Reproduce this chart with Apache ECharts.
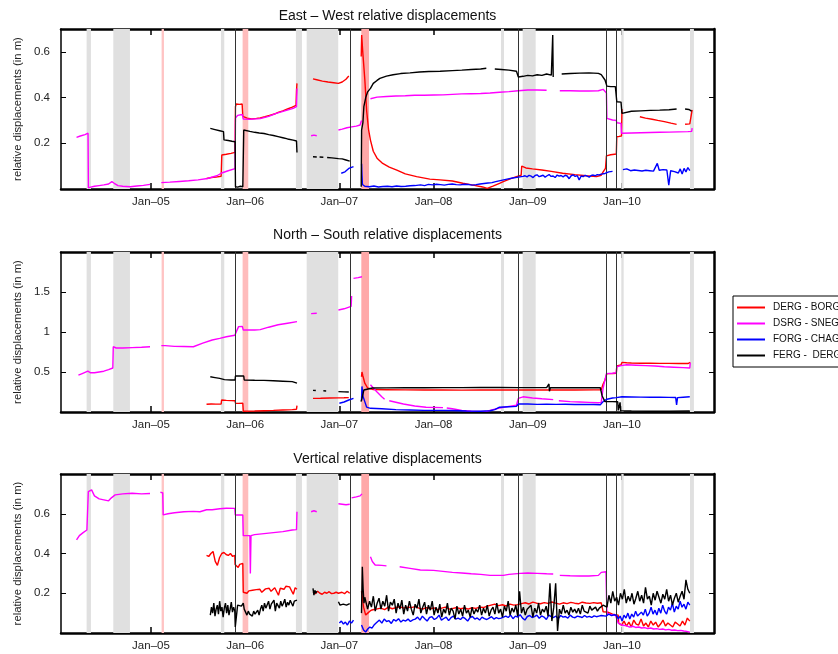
<!DOCTYPE html>
<html><head><meta charset="utf-8">
<script src="https://cdn.jsdelivr.net/npm/echarts@6/dist/echarts.min.js"></script>
<style>html,body{margin:0;padding:0;background:#fff}#c{width:838px;height:654px}</style>
</head><body><div id="c"></div>
<script>
// ---- axis / annotation data (decimal years) ----
const X_MIN = 2004.045, X_MAX = 2010.977;
const YEAR_TICKS = [2005, 2006, 2007, 2008, 2009, 2010];
const PANEL_TITLES = ['East \u2013 West relative displacements', 'North \u2013 South relative displacements', 'Vertical relative displacements'];
const Y_NAME = 'relative displacements (in m)';
const Y_MAX = [0.7, 2, 0.8];
const Y_TICKS = [[0.2, 0.4, 0.6], [0.5, 1, 1.5], [0.2, 0.4, 0.6]];
const NAMES = ['DERG - BORG', 'DSRG - SNEG', 'FORG - CHAG', 'FERG -  DERG'];
const GRAY_BANDS = [[2004.317,2004.363],[2004.600,2004.777],[2005.743,2005.778],[2006.539,2006.603],[2006.653,2006.988],[2008.716,2008.748],[2008.946,2009.084],[2009.993,2010.018],[2010.722,2010.764]];
const GRAY_BANDS_NS = [[2004.317,2004.363],[2004.600,2004.777],[2005.743,2005.778],[2006.653,2006.988],[2008.716,2008.748],[2008.946,2009.084],[2009.993,2010.018],[2010.722,2010.764]];
const RED_BANDS = [[2005.113,2005.138],[2005.973,2006.033],[2007.233,2007.315]];
const EVENT_LINES = [2005.895, 2007.120, 2008.899, 2009.834, 2009.940];

// ---- East-West ----
const EW_DERG = [
[2005.59,0.046],[2005.64,0.05],[2005.69,0.052],[2005.745,0.056],[2005.752,0.149],[2005.80,0.152],[2005.85,0.156],[2005.893,0.16],
[2005.897,0.36],[2005.905,0.372],[2005.94,0.37],[2005.968,0.372],
[2005.975,0.318],[2006.02,0.31],[2006.07,0.307],[2006.12,0.309],[2006.16,0.311],[2006.21,0.316],[2006.26,0.322],[2006.31,0.328],[2006.35,0.335],[2006.40,0.342],[2006.45,0.35],[2006.50,0.358],[2006.54,0.366],[2006.545,0.43],[2006.55,0.462],
null,
[2006.72,0.482],[2006.76,0.478],[2006.82,0.472],[2006.88,0.468],[2006.94,0.465],[2006.99,0.462],[2007.03,0.468],[2007.07,0.48],[2007.10,0.494],
null,
[2007.232,0.58],[2007.237,0.674],[2007.245,0.62],[2007.25,0.59],[2007.27,0.48],[2007.29,0.34],[2007.31,0.26],[2007.33,0.214],[2007.36,0.165],[2007.40,0.135],[2007.46,0.112],[2007.53,0.096],[2007.61,0.083],[2007.70,0.066],[2007.82,0.054],[2007.96,0.043],[2008.07,0.04],[2008.20,0.035],[2008.31,0.025],[2008.42,0.017],[2008.52,0.009],[2008.57,0.003],[2008.63,0.013],[2008.70,0.025],[2008.74,0.032],[2008.82,0.045],[2008.88,0.054],[2008.93,0.06],[2008.936,0.1],[2008.98,0.092],[2009.05,0.088],[2009.15,0.083],[2009.25,0.077],[2009.37,0.069],[2009.50,0.063],[2009.62,0.058],[2009.73,0.054],[2009.78,0.06],[2009.80,0.075],[2009.825,0.09],[2009.835,0.145],[2009.88,0.15],[2009.94,0.153],[2009.945,0.229],[2009.97,0.23],[2009.995,0.232],[2010.0,0.35],
null,
[2010.19,0.316],[2010.25,0.31],[2010.32,0.305],[2010.38,0.3],[2010.45,0.295],[2010.52,0.288],[2010.58,0.283],
null,
[2010.67,0.283],[2010.72,0.285],[2010.74,0.29],[2010.745,0.346]
];
const EW_DSRG = [
[2004.21,0.226],[2004.25,0.232],[2004.30,0.238],[2004.332,0.244],[2004.336,0.005],[2004.36,0.008],[2004.40,0.012],[2004.45,0.015],[2004.50,0.018],[2004.55,0.022],[2004.585,0.032],[2004.61,0.025],[2004.65,0.015],[2004.70,0.012],[2004.78,0.01],[2004.85,0.013],[2004.92,0.016],[2004.99,0.02],
null,
[2005.11,0.028],[2005.2,0.03],[2005.3,0.033],[2005.4,0.036],[2005.5,0.04],[2005.6,0.046],[2005.7,0.058],[2005.75,0.07],[2005.82,0.08],[2005.893,0.089],[2005.897,0.31],[2005.92,0.322],[2005.97,0.326],[2005.98,0.306],[2006.05,0.305],[2006.16,0.308],[2006.25,0.318],[2006.33,0.331],[2006.42,0.342],[2006.51,0.353],[2006.545,0.36],[2006.55,0.44],
null,
[2006.70,0.233],[2006.73,0.236],[2006.76,0.233],
null,
[2006.99,0.258],[2007.03,0.262],[2007.08,0.268],[2007.13,0.272],[2007.18,0.275],[2007.22,0.28],[2007.235,0.30],
null,
[2007.33,0.395],[2007.40,0.402],[2007.5,0.405],[2007.6,0.407],[2007.7,0.408],[2007.8,0.41],[2007.9,0.41],[2008.0,0.411],[2008.1,0.412],[2008.2,0.414],[2008.3,0.416],[2008.4,0.417],[2008.5,0.418],[2008.6,0.42],[2008.7,0.423],[2008.8,0.426],[2008.9,0.43],[2009.0,0.433],[2009.1,0.433],[2009.2,0.432],
null,
[2009.34,0.43],[2009.45,0.43],[2009.55,0.429],[2009.65,0.429],[2009.75,0.43],[2009.80,0.436],[2009.82,0.44],[2009.835,0.42],[2009.84,0.309],[2009.90,0.302],[2009.94,0.30],[2009.945,0.29],[2009.99,0.287],[2009.995,0.244],[2010.1,0.245],[2010.2,0.246],[2010.3,0.247],[2010.4,0.248],[2010.5,0.249],[2010.6,0.25],[2010.7,0.251],[2010.74,0.252],[2010.745,0.266]
];
const EW_FORG = [
[2007.02,0.069],[2007.06,0.075],[2007.10,0.09],[2007.15,0.098],
null,
[2007.236,0.11],[2007.24,0.06],[2007.245,0.02],[2007.26,0.012],
[2007.27,2007.80,[0.012,0.01,0.013,0.009,0.011,0.012,0.01,0.013,0.011,0.012,0.014,0.015]],
[2007.82,2008.62,[0.016,0.018,0.015,0.02,0.018,0.021,0.019,0.017,0.02,0.022,0.019,0.018,0.021,0.02,0.017,0.019,0.022,0.024,0.026,0.028]],
[2008.66,0.032],[2008.72,0.038],[2008.78,0.043],[2008.84,0.048],[2008.9,0.052],
[2008.95,2009.78,[0.055,0.058,0.053,0.06,0.056,0.05,0.059,0.062,0.054,0.057,0.06,0.052,0.058,0.063,0.055,0.057,0.05,0.061,0.056,0.059,0.053,0.06,0.057,0.045,0.058,0.062,0.055,0.059,0.04,0.057,0.054,0.06,0.056,0.052,0.059,0.061,0.058,0.063,0.062,0.065]],
[2009.82,0.068],[2009.86,0.075],[2009.90,0.077],
null,
[2010.01,2010.72,[0.085,0.082,0.088,0.084,0.08,0.086,0.083,0.087,0.081,0.084,0.079,0.085,0.082,0.086,0.08,0.083,0.078,0.084,0.112,0.082,0.08,0.085,0.078,0.083,0.017,0.08,0.084,0.076,0.082,0.07,0.088,0.066,0.09,0.075,0.094,0.08]]
];
const EW_FERG = [
[2005.63,0.265],[2005.68,0.26],[2005.73,0.255],[2005.77,0.251],[2005.775,0.215],[2005.82,0.212],[2005.86,0.209],[2005.893,0.207],[2005.897,0.01],[2005.92,0.008],[2005.95,0.012],[2005.975,0.01],[2005.985,0.258],[2006.0,0.255],[2006.05,0.252],[2006.1,0.248],[2006.15,0.245],[2006.2,0.243],[2006.25,0.238],[2006.3,0.234],[2006.35,0.229],[2006.4,0.224],[2006.45,0.219],[2006.51,0.214],[2006.545,0.21],[2006.55,0.16],
null,
[2006.72,0.141],[2006.76,0.14],
null,
[2006.79,0.14],[2006.83,0.139],
null,
[2006.87,0.138],[2006.92,0.136],[2006.99,0.133],[2007.03,0.132],[2007.07,0.127],[2007.11,0.122],
null,
[2007.232,0.01],[2007.236,0.258],[2007.25,0.29],[2007.26,0.36],[2007.28,0.40],[2007.30,0.425],[2007.33,0.44],[2007.36,0.462],[2007.40,0.475],[2007.43,0.484],[2007.50,0.494],[2007.57,0.50],[2007.65,0.505],[2007.75,0.508],[2007.85,0.512],[2007.95,0.514],[2008.07,0.515],[2008.2,0.518],[2008.3,0.52],[2008.4,0.523],[2008.5,0.525],[2008.56,0.528],
null,
[2008.65,0.525],[2008.72,0.523],[2008.8,0.52],[2008.88,0.515],[2008.90,0.49],[2008.95,0.493],[2009.0,0.497],[2009.05,0.495],[2009.1,0.5],[2009.15,0.497],[2009.2,0.503],[2009.25,0.498],[2009.265,0.674],[2009.27,0.49],
null,
[2009.36,0.503],[2009.45,0.505],[2009.55,0.507],[2009.65,0.508],[2009.75,0.506],[2009.78,0.5],[2009.82,0.477],[2009.84,0.45],[2009.88,0.448],[2009.93,0.448],[2009.945,0.382],[2009.99,0.38],[2010.0,0.331],[2010.02,0.338],[2010.1,0.34],[2010.2,0.342],[2010.3,0.344],[2010.4,0.345],[2010.5,0.347],[2010.58,0.35],
null,
[2010.67,0.35],[2010.71,0.348],[2010.74,0.34]
];

// ---- North-South ----
const NS_DERG = [
[2005.59,0.096],[2005.64,0.1],[2005.69,0.098],[2005.745,0.1],[2005.75,0.15],[2005.8,0.145],[2005.85,0.142],[2005.893,0.14],[2005.897,0.11],[2005.93,0.108],[2005.975,0.11],[2005.98,0.01],[2006.1,0.012],[2006.2,0.016],[2006.3,0.02],[2006.4,0.025],[2006.5,0.03],[2006.545,0.035],[2006.55,0.08],
null,
[2006.72,0.17],[2006.8,0.172],[2006.9,0.175],[2006.99,0.177],[2007.05,0.178],[2007.10,0.18],
null,
[2007.235,0.44],[2007.24,0.5],[2007.25,0.45],[2007.27,0.36],[2007.30,0.3],[2007.33,0.29],[2007.36,0.28],[2007.5,0.278],[2007.7,0.276],[2007.9,0.275],[2008.1,0.275],[2008.3,0.274],[2008.5,0.275],[2008.7,0.275],[2008.9,0.276],[2009.1,0.275],[2009.3,0.275],[2009.5,0.275],[2009.7,0.276],[2009.78,0.278],[2009.80,0.35],[2009.82,0.4],[2009.84,0.48],[2009.9,0.482],[2009.94,0.485],[2009.945,0.575],[2009.99,0.59],[2010.0,0.62],[2010.05,0.615],[2010.1,0.612],[2010.2,0.61],[2010.3,0.61],[2010.4,0.608],[2010.5,0.608],[2010.6,0.607],[2010.7,0.606],[2010.72,0.608],[2010.725,0.62]
];
const NS_DSRG = [
[2004.23,0.46],[2004.27,0.48],[2004.33,0.51],[2004.36,0.49],[2004.40,0.49],[2004.45,0.5],[2004.5,0.51],[2004.55,0.53],[2004.595,0.55],[2004.60,0.816],[2004.63,0.80],[2004.7,0.80],[2004.8,0.805],[2004.9,0.81],[2004.99,0.816],
null,
[2005.11,0.83],[2005.13,0.845],[2005.15,0.83],[2005.25,0.82],[2005.35,0.818],[2005.45,0.816],[2005.55,0.86],[2005.65,0.9],[2005.73,0.92],[2005.8,0.94],[2005.89,0.96],[2005.93,1.067],[2005.97,1.07],[2005.98,1.025],[2006.1,1.025],[2006.16,1.03],[2006.25,1.06],[2006.35,1.09],[2006.45,1.11],[2006.55,1.13],
null,
[2006.70,1.23],[2006.76,1.235],
null,
[2006.99,1.275],[2007.05,1.29],[2007.125,1.32],[2007.13,1.45],
null,
[2007.15,1.67],[2007.2,1.68],[2007.24,1.69],
null,
[2007.33,0.34],[2007.36,0.3],[2007.40,0.25],[2007.45,0.19],[2007.48,0.16],
null,
[2007.53,0.14],[2007.68,0.1],[2007.8,0.075],[2007.92,0.06],[2008.1,0.055],
null,
[2008.14,0.05],[2008.2,0.04],[2008.3,0.02],[2008.4,0.01],[2008.5,0.008],[2008.57,0.01],[2008.63,0.03],[2008.7,0.05],[2008.8,0.07],[2008.88,0.085],[2008.9,0.17],[2008.95,0.19],[2009.05,0.175],[2009.15,0.165],[2009.27,0.155],
null,
[2009.33,0.14],[2009.45,0.13],[2009.55,0.125],[2009.65,0.12],[2009.75,0.115],[2009.78,0.12],[2009.80,0.3],[2009.835,0.48],[2009.9,0.485],[2009.94,0.49],[2009.945,0.566],[2009.99,0.58],[2010.0,0.6],[2010.05,0.59],[2010.15,0.585],[2010.25,0.58],[2010.35,0.575],[2010.45,0.565],[2010.55,0.56],[2010.65,0.555],[2010.72,0.55],[2010.725,0.615]
];
const NS_FORG = [
[2007.0,0.11],[2007.05,0.125],[2007.1,0.15],[2007.15,0.17],
null,
[2007.235,0.14],[2007.24,0.32],[2007.25,0.2],[2007.27,0.13],[2007.29,0.06],[2007.33,0.046],[2007.45,0.04],[2007.6,0.03],[2007.75,0.025],[2007.9,0.02],[2008.05,0.02],[2008.2,0.018],[2008.35,0.012],[2008.5,0.01],[2008.6,0.015],[2008.65,0.03],[2008.7,0.06],[2008.8,0.066],[2008.88,0.07],[2008.9,0.1],[2009.0,0.1],[2009.1,0.095],[2009.2,0.098],[2009.3,0.095],[2009.4,0.097],[2009.5,0.094],[2009.6,0.095],[2009.7,0.093],[2009.77,0.09],[2009.8,0.13],[2009.84,0.16],[2009.9,0.175],[2009.94,0.18],[2010.0,0.19],[2010.1,0.188],[2010.2,0.186],[2010.3,0.185],[2010.4,0.186],[2010.5,0.183],[2010.57,0.182],[2010.58,0.09],[2010.59,0.18],[2010.65,0.185],[2010.72,0.19]
];
const NS_FERG = [
[2005.63,0.44],[2005.68,0.43],[2005.73,0.42],[2005.78,0.405],[2005.85,0.4],[2005.893,0.4],[2005.897,0.45],[2005.94,0.452],[2005.985,0.45],[2005.99,0.4],[2006.1,0.397],[2006.2,0.395],[2006.3,0.39],[2006.4,0.385],[2006.5,0.38],[2006.55,0.36],
null,
[2006.72,0.27],[2006.75,0.268],
null,
[2006.83,0.265],[2006.86,0.263],
null,
[2006.99,0.255],[2007.05,0.252],[2007.1,0.25],
null,
[2007.23,0.13],[2007.24,0.17],[2007.26,0.275],[2007.28,0.3],[2007.35,0.3],[2007.5,0.302],[2007.7,0.303],[2007.9,0.304],[2008.1,0.305],[2008.3,0.305],[2008.5,0.306],[2008.7,0.306],[2008.9,0.305],[2009.1,0.305],[2009.2,0.305],[2009.225,0.35],[2009.23,0.26],[2009.24,0.305],[2009.4,0.304],[2009.6,0.304],[2009.77,0.303],[2009.79,0.2],[2009.82,0.13],[2009.9,0.13],[2009.955,0.128],[2009.96,0.02],[2009.975,0.02],[2009.98,0.12],[2009.985,0.015],[2010.1,0.012],[2010.3,0.01],[2010.5,0.01],[2010.72,0.012]
];

// ---- Vertical ----
const V_DERG = [
[2005.59,2005.89,[0.39,0.385,0.40,0.41,0.36,0.34,0.38,0.40,0.405,0.395,0.39,0.40,0.385,0.39]],
[2005.893,2005.975,[0.345,0.35,0.33,0.345,0.34,0.35]],
[2005.98,2006.55,[0.205,0.21,0.2,0.212,0.208,0.215,0.21,0.218,0.212,0.22,0.205,0.215,0.222,0.218,0.225,0.21,0.22,0.228,0.222,0.19,0.225,0.23,0.22,0.235,0.228,0.232,0.225,0.195,0.228,0.22]],
null,
[2006.72,2006.99,[0.205,0.198,0.21,0.2,0.195,0.205,0.2,0.208,0.198,0.2,0.205,0.2]],
[2007.0,2007.11,[0.2,0.205,0.198,0.21,0.2]],
null,
[2007.235,2007.39,[0.21,0.13,0.09,0.1,0.11,0.116,0.118,0.12]],
[2007.40,2009.78,[0.12,0.125,0.118,0.13,0.122,0.128,0.132,0.125,0.13,0.128,0.133,
 0.125,0.12,0.128,0.122,0.126,0.118,0.125,0.13,0.12,0.124,0.128,0.122,0.126,0.12,0.127,0.124,0.13,0.128,
 0.135,0.14,0.145,0.138,0.142,0.136,0.145,0.14,0.143,
 0.148,0.152,0.146,0.155,0.15,0.147,0.153,0.149,0.156,0.15,0.145,0.152,0.148,0.154,0.15,0.147,0.155,0.151,0.149,0.153,0.15,0.152]],
[2009.8,0.107],[2009.85,0.105],[2009.9,0.095],[2009.96,0.09],[2009.965,0.05],
[2009.97,2010.72,[0.05,0.04,0.06,0.035,0.055,0.03,0.065,0.045,0.04,0.07,0.035,0.05,0.03,0.06,0.04,0.055,0.03,0.045,0.065,0.035,0.05,0.04,0.03,0.055,0.045,0.035,0.06,0.04,0.075,0.06]]
];
const V_DSRG = [
[2004.21,0.468],[2004.24,0.49],[2004.28,0.505],[2004.32,0.518],[2004.335,0.711],[2004.37,0.72],[2004.40,0.69],[2004.45,0.675],[2004.50,0.67],[2004.55,0.665],[2004.58,0.68],[2004.62,0.695],[2004.7,0.70],[2004.8,0.703],[2004.9,0.70],[2004.99,0.702],
null,
[2005.10,0.708],[2005.125,0.705],[2005.13,0.594],[2005.18,0.60],[2005.25,0.605],[2005.35,0.61],[2005.45,0.612],[2005.52,0.61],[2005.59,0.62],[2005.65,0.62],[2005.73,0.625],[2005.80,0.628],[2005.89,0.627],[2005.895,0.594],[2005.94,0.594],[2005.975,0.594],[2005.98,0.49],[2006.0,0.488],[2006.05,0.49],[2006.055,0.30],[2006.062,0.49],[2006.1,0.495],[2006.2,0.50],[2006.3,0.505],[2006.4,0.51],[2006.5,0.518],[2006.545,0.52],[2006.55,0.61],
null,
[2006.70,0.61],[2006.73,0.615],[2006.76,0.61],
null,
[2006.99,0.65],[2007.03,0.648],[2007.07,0.645],[2007.11,0.648],
null,
[2007.13,0.68],[2007.18,0.685],[2007.22,0.69],[2007.24,0.70],
null,
[2007.33,0.384],[2007.35,0.36],[2007.38,0.342],[2007.45,0.34],[2007.5,0.338],
null,
[2007.64,0.333],[2007.75,0.325],[2007.86,0.317],[2008.0,0.315],[2008.1,0.31],[2008.2,0.305],[2008.3,0.302],[2008.4,0.298],[2008.5,0.295],[2008.6,0.29],[2008.74,0.29],[2008.8,0.295],[2008.92,0.30],[2009.0,0.302],[2009.1,0.30],[2009.2,0.298],[2009.27,0.297],
null,
[2009.34,0.29],[2009.45,0.288],[2009.55,0.287],[2009.65,0.287],[2009.75,0.29],[2009.78,0.305],[2009.83,0.308],[2009.84,0.099],[2009.88,0.092],[2009.93,0.09],[2009.96,0.05],[2010.0,0.04],
[2010.05,2010.72,[0.036,0.03,0.034,0.028,0.03,0.025,0.027,0.022,0.025,0.02,0.022,0.018,0.02,0.016,0.018,0.014,0.015,0.012,0.013,0.01,0.008,0.004]]
];
const V_FORG = [
[2007.0,2007.15,[0.05,0.06,0.045,0.055,0.04,0.06,0.05,0.065]],
null,
[2007.235,2007.39,[0.04,0.015,0.005,0.02,0.03,0.025,0.04,0.05]],
[2007.40,2009.78,[0.055,0.065,0.05,0.07,0.058,0.062,0.048,0.068,0.06,0.072,0.055,0.065,0.06,0.07,0.058,0.066,
 0.07,0.08,0.065,0.085,0.072,0.06,0.078,0.082,0.068,0.075,0.09,0.065,0.073,0.08,0.062,0.077,0.085,0.07,0.075,0.068,0.08,0.072,0.06,0.078,0.083,0.07,0.076,0.065,0.08,0.072,0.068,0.075,0.082,0.07,0.077,0.072,
 0.075,0.08,0.085,0.078,0.09,0.072,0.085,0.08,0.092,0.075,0.065,0.083,0.088,0.078,0.082,0.09,0.074,0.086,0.08,0.068,0.09,0.082,0.078,0.085,0.072,0.088,0.08,0.083,0.075,0.09,0.08,0.077,0.085,0.082,0.078,0.088,0.08,0.084,0.078,0.086,0.082,0.085,0.088]],
[2009.8,2009.95,[0.09,0.085,0.095,0.088,0.092,0.085]],
[2009.96,2010.72,[0.07,0.085,0.06,0.09,0.075,0.1,0.07,0.095,0.08,0.11,0.085,0.075,0.105,0.09,0.12,0.085,0.1,0.13,0.095,0.115,0.09,0.125,0.1,0.14,0.11,0.095,0.13,0.115,0.15,0.105,0.135,0.12,0.16,0.13,0.145,0.12,0.155,0.14]]
];
const V_FERG = [
[2005.63,2005.89,[0.09,0.13,0.10,0.15,0.085,0.12,0.14,0.095,0.16,0.11,0.13,0.08,0.125,0.15,0.10,0.14,0.09,0.12,0.155,0.105,0.13,0.11]],
[2005.895,0.03],
[2005.92,2005.98,[0.14,0.15,0.135,0.15]],
[2005.99,2006.55,[0.12,0.105,0.09,0.11,0.095,0.1,0.085,0.11,0.095,0.1,0.115,0.09,0.12,0.14,0.11,0.15,0.125,0.13,0.16,0.12,0.145,0.135,0.165,0.11,0.15,0.14,0.125,0.16,0.135,0.15,0.17,0.13,0.155,0.14,0.165,0.15,0.135,0.16,0.155,0.165]],
null,
[2006.72,2006.76,[0.225,0.19,0.215,0.2,0.21]],
null,
[2006.99,2007.11,[0.157,0.14,0.15,0.145,0.155,0.14,0.15,0.148]],
null,
[2007.235,2007.27,[0.1,0.333,0.22,0.15,0.18]],
[2007.28,2009.78,[0.17,0.12,0.16,0.13,0.185,0.11,0.15,0.175,0.12,0.16,0.135,0.19,0.11,0.155,0.14,0.17,
 0.1,0.15,0.12,0.165,0.095,0.14,0.11,0.16,0.12,0.09,0.145,0.125,0.17,0.1,0.13,0.155,0.095,0.14,0.115,0.16,
 0.09,0.13,0.1,0.145,0.08,0.12,0.1,0.15,0.09,0.125,0.11,0.07,0.135,0.095,0.12,0.085,0.14,0.1,0.115,0.08,0.13,0.095,0.12,0.105,0.14,
 0.09,0.125,0.1,0.14,0.085,0.115,0.13,0.095,0.15,0.1,0.12,0.08,0.135,0.11,0.16,0.09,0.125,0.105,0.14,0.085,0.21,0.1,0.13,0.09,0.12,
 0.11,0.14,0.08,0.125,0.1,0.15,0.09,0.12,0.105,0.135,0.085,0.25,0.06,0.13,0.25,0.01,0.12,0.095,0.14,0.1,0.115,0.09,0.13,0.105,0.12,
 0.1,0.125,0.095,0.14,0.11,0.12,0.1,0.135,0.115,0.105,0.13,0.11,0.125,0.12]],
[2009.8,2010.72,[0.14,0.15,0.13,0.19,0.15,0.21,0.16,0.18,0.14,0.2,0.17,0.22,0.15,0.185,0.16,0.2,0.145,0.175,0.21,0.16,0.19,0.15,0.23,0.17,0.185,0.14,0.2,0.165,0.21,0.18,0.15,0.195,0.17,0.22,0.16,0.19,0.14,0.175,0.2,0.155,0.185,0.21,0.17,0.267,0.22,0.2]]
];

const PANELS = [
  [EW_DERG, EW_DSRG, EW_FORG, EW_FERG],
  [NS_DERG, NS_DSRG, NS_FORG, NS_FERG],
  [V_DERG, V_DSRG, V_FORG, V_FERG]
];
const PANEL_GRAY = [GRAY_BANDS, GRAY_BANDS_NS, GRAY_BANDS];

// ---- build ----
function build(list) {
  const out = [];
  for (const e of list) {
    if (e === null) { out.push([out.length ? out[out.length - 1][0] : X_MIN, '-']); continue; }
    if (Array.isArray(e[2])) {
      const t0 = e[0], t1 = e[1], vals = e[2], n = vals.length;
      vals.forEach((v, i) => out.push([n > 1 ? t0 + (t1 - t0) * i / (n - 1) : t0, v]));
    } else out.push([e[0], e[1]]);
  }
  return out;
}

const COLORS = ['#ff0000', '#ff00ff', '#0000ff', '#000000'];
const FONT = 'Liberation Sans, Arial, Helvetica, sans-serif';
const GRID_BOX = [{ top: 29, height: 160 }, { top: 252, height: 160 }, { top: 474, height: 159 }];
const TITLE_Y = [16, 235, 459];
const RED_COLORS = ['#ffc4c4', '#ffbcbc', '#ffa8a8'];

const grid = [], xAxis = [], yAxis = [], series = [], graphic = [];
const AX = { onZero: false, lineStyle: { color: '#000', width: 2.5 } };
PANELS.forEach((panel, p) => {
  grid.push({ left: 61, width: 653, top: GRID_BOX[p].top, height: GRID_BOX[p].height });
  const xBase = { type: 'value', gridIndex: p, min: X_MIN, max: X_MAX, splitLine: { show: false },
    axisLine: AX, axisTick: { inside: true, length: 6, customValues: YEAR_TICKS, lineStyle: { color: '#000', width: 1.5 } } };
  xAxis.push(Object.assign({}, xBase, { position: 'bottom',
    axisLabel: { customValues: YEAR_TICKS, formatter: v => 'Jan\u2013' + String(Math.round(v)).slice(2), fontFamily: FONT, fontSize: 11.5, color: '#222', margin: 7 } }));
  xAxis.push(Object.assign({}, xBase, { position: 'top', axisLabel: { show: false } }));
  const yBase = { type: 'value', gridIndex: p, min: 0, max: Y_MAX[p], splitLine: { show: false },
    axisTick: { inside: true, length: 5, customValues: Y_TICKS[p], lineStyle: { color: '#000', width: 1 } } };
  yAxis.push(Object.assign({}, yBase, { position: 'left', axisLine: { onZero: false, lineStyle: { color: '#000', width: 1.5 } },
    name: Y_NAME, nameLocation: 'middle', nameGap: 33, nameTextStyle: { fontFamily: FONT, fontSize: 11.3, color: '#222' },
    axisLabel: { customValues: Y_TICKS[p], formatter: v => String(v), fontFamily: FONT, fontSize: 11.5, color: '#222', margin: 11 } }));
  yAxis.push(Object.assign({}, yBase, { position: 'right', axisLine: AX, axisLabel: { show: false } }));

  const xi = p * 2, yi = p * 2;
  series.push({ type: 'line', name: '_bands' + p, xAxisIndex: xi, yAxisIndex: yi, z: 1, silent: true,
    data: [[X_MIN, '-']], showSymbol: false,
    markArea: { silent: true, label: { show: false },
      data: PANEL_GRAY[p].map(b => [{ xAxis: b[0], itemStyle: { color: '#e0e0e0' } }, { xAxis: b[1] }])
        .concat(RED_BANDS.map((b, k) => [{ xAxis: b[0], itemStyle: { color: RED_COLORS[k] } }, { xAxis: b[1] }])) } });
  series.push({ type: 'line', name: '_events' + p, xAxisIndex: xi, yAxisIndex: yi, z: 2, silent: true,
    data: [[X_MIN, '-']], showSymbol: false,
    markLine: { silent: true, symbol: ['none', 'none'], label: { show: false },
      lineStyle: { color: '#333', width: 1, type: 'solid' },
      data: EVENT_LINES.map(x => ({ xAxis: x })) } });
  panel.forEach((s, k) => {
    series.push({ type: 'line', name: NAMES[k], xAxisIndex: xi, yAxisIndex: yi, z: 3 + k,
      data: build(s), showSymbol: false, symbol: 'none', connectNulls: false, clip: true,
      lineStyle: { color: COLORS[k], width: 1.4 }, itemStyle: { color: COLORS[k] } });
  });
  graphic.push({ type: 'text', x: 387.5, y: TITLE_Y[p],
    style: { text: PANEL_TITLES[p], textAlign: 'center', textVerticalAlign: 'middle', font: '14px ' + FONT, fill: '#111' } });
});

const chart = echarts.init(document.getElementById('c'), null, { renderer: 'canvas' });
chart.setOption({
  animation: false,
  backgroundColor: '#fff',
  grid, xAxis, yAxis, series, graphic,
  legend: { data: NAMES, orient: 'vertical', left: 733, top: 296, padding: [5, 6, 5, 4], itemGap: 3,
    itemWidth: 28, itemHeight: 2, icon: 'rect', borderColor: '#000', borderWidth: 1, selectedMode: false,
    textStyle: { fontFamily: FONT, fontSize: 10, color: '#111', lineHeight: 13, padding: [0, 0, 0, 3] } }
});
</script>
</body></html>
